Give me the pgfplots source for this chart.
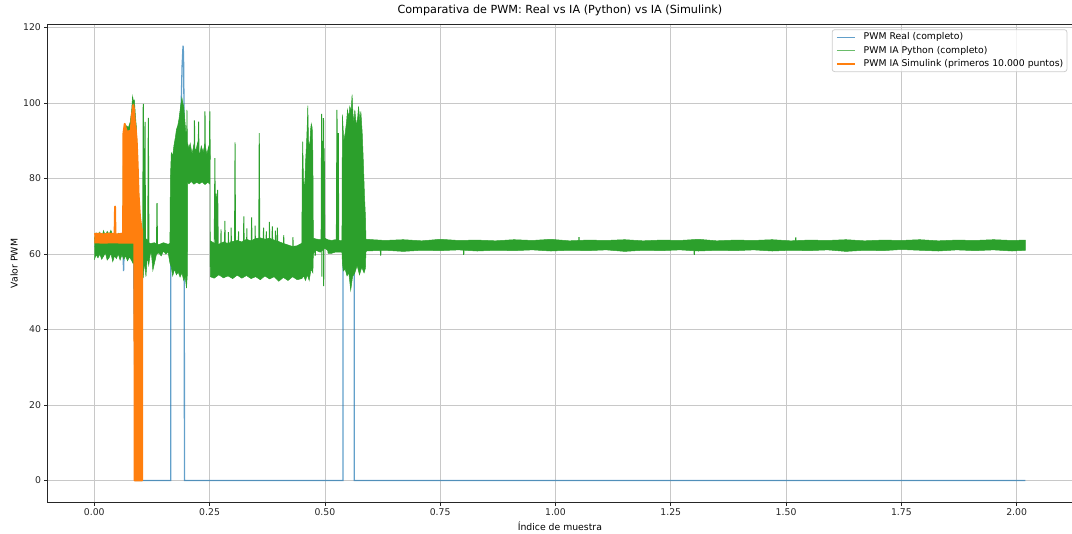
\documentclass[border=0pt]{standalone}
\usepackage{pgfplots}
\pgfplotsset{compat=1.18}
\usepackage{fontspec}
\setmainfont{DejaVu Sans}
\definecolor{mblue}{HTML}{1F77B4}
\definecolor{morange}{HTML}{FF7F0E}
\definecolor{mgreen}{HTML}{2CA02C}
\definecolor{gridgray}{HTML}{C8C8C8}
\definecolor{legedge}{HTML}{CCCCCC}
\newcommand{\fs}{\fontsize{9.3}{11}\selectfont}
\begin{document}
\begin{tikzpicture}
\begin{axis}[name=ax,
  width=1024.2pt, height=477.5pt, scale only axis,
  xmin=-0.101, xmax=2.120, ymin=-5.75, ymax=120.75,
  xtick={0,0.25,0.5,0.75,1,1.25,1.5,1.75,2},
  ytick={0,20,40,60,80,100,120},
  xticklabel style={/pgf/number format/.cd,fixed,fixed zerofill,precision=2},
  /pgf/number format/assume math mode=true,
  tick label style={font=\fs, black!85},
  grid=major,
  major grid style={gridgray, line width=0.75pt},
  tick align=outside, tick pos=left, major tick length=3.25pt,
  tick style={black!85, line width=0.75pt},
  axis line style={black!85, line width=0.75pt},
  title={Comparativa de PWM: Real vs IA (Python) vs IA (Simulink)},
  title style={font=\fontsize{11.2}{13}\selectfont, at={(axis description cs:0.5,1)}, anchor=base, yshift=5.6pt},
  xlabel={Índice de muestra},
  xlabel style={font=\fs, at={(axis description cs:0.5,0)}, anchor=base, yshift=-28pt},
  ylabel={Valor PWM},
  ylabel style={font=\fs, at={(axis description cs:-0.02944,0.5)}, anchor=base, rotate=0},
  legend cell align=left,
  legend image code/.code={\draw[#1] (0pt,0pt) -- (18.6pt,0pt);},
  legend style={at={(rel axis cs:1,1)}, anchor=north east, xshift=-4.65pt, yshift=-4.65pt,
    draw=legedge, line width=0.75pt, rounded corners=2.5pt, fill=white, fill opacity=0.8, text opacity=1,
    font=\fs, inner xsep=3.7pt, inner ysep=3.0pt, row sep=4.0pt, column sep=7.4pt,
    nodes={inner sep=0pt, text height=7.1pt, text depth=2.2pt}},
]
% ---- PWM Real (blue) ----
\addplot[forget plot, mblue, opacity=0.7, line width=1.3pt] coordinates {
(0,62)(0.030,62)(0.062,62)(0.0635,55.5)(0.065,62)(0.085,62)(0.090,0)(0.166,0)(0.166,60)(0.175,75)(0.183,90)(0.1885,100)(0.1905,110)(0.1925,115.2)(0.1935,113)(0.1945,100)(0.195,80)(0.1955,0)(0.5395,0)(0.5395,60)(0.5635,60)(0.5635,0)(2.019,0)
};
% ---- PWM IA Python (green): dense envelope ----
\addplot[forget plot, draw=mgreen, fill=mgreen, line width=0.5pt] coordinates {
(0,64.0)(0.004,65.6)(0.008,64.5)(0.012,65.8)(0.016,64.2)(0.020,66.2)(0.024,64.8)(0.028,66.0)(0.032,65.2)(0.036,66.3)(0.040,65.0)(0.044,65.8)(0.048,64.6)(0.052,65.5)(0.056,64.4)(0.060,65.0)(0.062,64.5)
(0.063,88)(0.066,93)(0.070,94)(0.074,93.5)(0.078,95)(0.081,98)(0.083,101.8)(0.085,100.5)(0.087,100.8)(0.089,97)(0.091,94)(0.093,88)(0.095,80)(0.098,72)(0.101,66)(0.103,64)
(0.106,64)(0.110,63.5)(0.114,64)(0.118,63)(0.122,62.8)(0.130,63)(0.140,62.5)(0.150,63)(0.160,62.6)(0.164,62.8)
(0.165,80)(0.167,86.8)(0.170,86)(0.173,89)(0.176,91)(0.178,92.9)(0.181,94)(0.184,96)(0.187,99)(0.190,101.4)(0.192,100)(0.194,99)(0.196,96)(0.198,93)(0.200,90)(0.201,98.2)(0.202,89.5)
(0.205,88)(0.208,89.3)(0.212,86.5)(0.216,89)(0.220,87.2)(0.224,89.5)(0.228,86)(0.232,88.6)(0.236,87)(0.240,89.2)(0.244,86.4)(0.248,88.5)(0.251,86)
(0.2515,63.5)(0.26,62.9)(0.27,62.6)(0.28,63.2)(0.29,62.8)(0.30,63.3)(0.31,63.6)(0.32,63.2)(0.33,63.9)(0.34,63.5)(0.35,64.1)(0.36,64.3)(0.37,63.9)(0.38,64.2)(0.39,63.7)(0.40,63.3)(0.41,62.8)(0.42,62.4)(0.43,62)(0.44,62.2)(0.449,62.8)
(0.450,63)(0.451,84)(0.452,89.8)(0.4535,80)(0.456,77)(0.458,84)(0.4605,90)(0.462,95)(0.463,99.3)(0.4645,90)(0.467,88)(0.469,93)(0.4705,94.5)(0.4725,93.5)(0.474,86)(0.475,64.2)
(0.48,64)(0.49,63.8)(0.50,64.2)(0.506,63.8)(0.515,63.6)(0.522,63.8)(0.537,63.5)
(0.538,96.9)(0.541,90)(0.544,92)(0.547,95)(0.549,98.2)(0.552,96)(0.554,99.1)(0.557,98)(0.559,102.2)(0.561,97)(0.563,95)(0.565,98.2)(0.568,94)(0.571,96)(0.573,99.1)(0.576,95)(0.578,97.8)(0.581,92)(0.583,85.8)(0.586,75)(0.588,69.9)(0.589,64)
(0.59,63.9)(0.63,63.6)(0.67,63.8)(0.71,63.5)(0.75,63.9)(0.79,63.6)(0.83,63.7)(0.87,63.5)(0.91,63.8)(0.95,63.6)(0.99,63.9)(1.03,63.5)(1.07,63.7)(1.11,63.6)(1.15,63.8)(1.19,63.5)(1.23,63.7)(1.27,63.6)(1.31,63.9)(1.35,63.5)(1.39,63.7)(1.43,63.6)(1.47,63.8)(1.51,63.5)(1.55,63.7)(1.59,63.6)(1.63,63.8)(1.67,63.5)(1.71,63.7)(1.75,63.6)(1.79,63.8)(1.83,63.5)(1.87,63.7)(1.91,63.6)(1.95,63.8)(1.99,63.6)(2.019,63.7)
(2.019,61.0)(1.99,60.8)(1.95,61.1)(1.91,60.9)(1.87,61.1)(1.83,60.8)(1.79,61.0)(1.75,61.2)(1.71,60.9)(1.67,61.0)(1.63,60.7)(1.59,61.1)(1.55,60.9)(1.51,61.0)(1.47,60.8)(1.43,61.1)(1.39,60.9)(1.35,61.0)(1.31,60.8)(1.27,61.1)(1.23,60.9)(1.19,61.0)(1.15,60.7)(1.11,61.1)(1.07,60.9)(1.03,61.0)(0.99,60.8)(0.95,61.1)(0.91,60.9)(0.87,61.0)(0.83,60.8)(0.79,61.1)(0.75,60.9)(0.71,61.0)(0.67,60.7)(0.63,61.0)(0.59,60.8)
(0.589,60.5)(0.588,56.3)(0.585,55)(0.580,56.5)(0.575,54.5)(0.570,57)(0.565,55)(0.560,54)(0.556,50.4)(0.552,55)(0.548,54.2)(0.544,56)(0.540,55.5)(0.538,57.6)(0.537,60.5)
(0.522,60.5)(0.515,60.2)(0.507,60.2)(0.506,61)(0.500,61.5)(0.49,60.5)(0.48,61)(0.475,60)
(0.474,55)(0.470,56)(0.466,53)(0.462,54.5)(0.458,53)(0.454,54.2)(0.450,53.5)
(0.44,53.2)(0.43,54)(0.42,53)(0.41,53.8)(0.40,52.8)(0.39,54)(0.38,53.4)(0.37,54.2)(0.36,53.2)(0.35,54)(0.34,53.5)(0.33,54.3)(0.32,53.6)(0.31,54.4)(0.30,53.5)(0.29,54.2)(0.28,53.7)(0.27,54.5)(0.26,53.6)(0.2515,54)
(0.251,78.5)(0.246,79)(0.240,78.4)(0.234,79.1)(0.228,78.6)(0.222,79)(0.216,78.5)(0.210,79.2)(0.205,78.6)(0.2025,79)
(0.202,55)(0.200,51)(0.197,54)(0.194,53)(0.190,55)(0.186,53.9)(0.182,55.2)(0.178,54.5)(0.174,56)(0.170,54.2)(0.167,56.5)(0.164,57.6)
(0.160,60.5)(0.155,60)(0.150,60.8)(0.145,59.5)(0.140,60.3)(0.135,60)(0.127,55.7)(0.124,60)(0.122,60.5)
(0.118,57)(0.115,59.5)(0.112,54)(0.109,58)(0.106,53.6)(0.103,57)(0.100,58)(0.096,58.5)(0.092,59)(0.088,58)(0.084,57.5)(0.080,58.5)(0.076,59.2)(0.072,58.2)(0.068,59.5)(0.064,58.6)(0.060,59.8)(0.056,58.4)(0.052,60.0)(0.048,58.8)(0.044,59.5)(0.040,58.0)(0.036,60.2)(0.032,59.0)(0.028,58.4)(0.024,60.3)(0.020,59.4)(0.016,58.6)(0.012,60.0)(0.008,59.0)(0.004,59.8)(0,58.5)
};
% ---- green spikes ----
\addplot[forget plot, mgreen, line width=1pt] coordinates {(0.1050,62)(0.1062,99.8)(0.1074,62)(0.1080,88)(0.1090,60)(0.1100,95)(0.1110,62)(0.1160,62)(0.1172,96.1)(0.1184,62)(0.1350,62)(0.1360,73.5)(0.1370,62)};
\addplot[forget plot, mgreen, line width=1pt] coordinates {(0.2165,85)(0.2172,95.4)(0.2179,85)(0.2255,85)(0.2262,95.1)(0.2269,85)(0.2393,85)(0.2400,97.8)(0.2407,85)(0.2498,85)(0.2505,97.8)(0.2512,85)};
\addplot[forget plot, mgreen, line width=0.9pt] coordinates {(0.2600,60)(0.2615,85.4)(0.2630,60)(0.2645,76)(0.2660,60)(0.2675,77)(0.2690,60)(0.2740,61)(0.2748,66.5)(0.2756,61)(0.2820,60)(0.2832,68.8)(0.2844,60)(0.2900,61)(0.2908,65.8)(0.2916,61)(0.2960,61)(0.2968,67)(0.2976,61)(0.3040,60)(0.3052,89.6)(0.3064,60)(0.3120,61)(0.3128,66)(0.3136,61)(0.3230,60)(0.3242,70)(0.3254,60)(0.3300,61)(0.3308,66.8)(0.3316,61)(0.3400,60)(0.3412,69.7)(0.3424,60)(0.3480,61)(0.3488,67.5)(0.3496,61)(0.3565,60)(0.3577,92)(0.3589,60)(0.3660,62)(0.3670,67)(0.3680,62)(0.3720,62)(0.3730,66)(0.3740,62)(0.3790,62)(0.3798,68.5)(0.3806,62)(0.3850,62)(0.3860,67.3)(0.3870,62)(0.3920,62)(0.3928,66.2)(0.3936,62)(0.3960,62)(0.3970,67)(0.3980,62)(0.4100,61)(0.4108,65)(0.4116,61)(0.4300,61)(0.4308,64.5)(0.4316,61)};
\addplot[forget plot, mgreen, line width=1pt] coordinates {(0.4780,62)(0.4790,59.5)(0.4800,62)(0.4920,62)(0.4930,97.1)(0.4935,54)(0.4945,90)(0.4955,62)(0.4970,96)(0.4975,51.5)(0.4985,88)(0.4995,62)(0.5250,62)(0.5262,98.2)(0.5274,62)(0.5290,92)(0.5300,62)(0.6200,62)(0.6210,59.6)(0.6220,62)(0.8000,62)(0.8010,59.8)(0.8020,62)(1.0500,62)(1.0510,64.5)(1.0520,62)(1.3000,62)(1.3010,59.8)(1.3020,62)(1.5200,62)(1.5210,64.4)(1.5220,62)};
% ---- PWM IA Simulink (orange) ----
\addplot[forget plot, draw=morange, fill=morange, line width=1.9pt, line join=round] coordinates {
(0,65.3)(0.01,65.4)(0.02,65.2)(0.03,65.4)(0.044,65.3)(0.0450,72.6)(0.0460,65.3)(0.05,65.2)(0.06,65.4)(0.0625,65.3)(0.0632,92)(0.066,94.5)(0.069,93)(0.072,92.2)(0.076,92.6)(0.079,92)(0.081,96.4)(0.083,98)(0.0845,99.5)(0.086,98.5)(0.088,95)(0.090,93)(0.092,90)(0.094,84)(0.096,76)(0.099,70)(0.102,67)(0.1040,66)
(0.1040,0)(0.0875,0)(0.0868,63)(0.062,63)(0.04,63.1)(0.02,63)(0,63.1)
};
\addlegendimage{mblue, opacity=0.7, line width=1.3pt}
\addlegendentry{PWM Real (completo)}
\addlegendimage{mgreen, opacity=0.7, line width=1.3pt}
\addlegendentry{PWM IA Python (completo)}
\addlegendimage{morange, line width=1.9pt}
\addlegendentry{PWM IA Simulink (primeros 10.000 puntos)}
\node[anchor=north east, inner sep=0pt, font=\fs, black!85] at (rel axis cs:1,0) [yshift=-16.5pt] {1e6};
\end{axis}
\pgfresetboundingbox
\path ([xshift=-47.7pt,yshift=-30.8pt]ax.south west) rectangle ([yshift=24.7pt]ax.north east);
\end{tikzpicture}
\end{document}
